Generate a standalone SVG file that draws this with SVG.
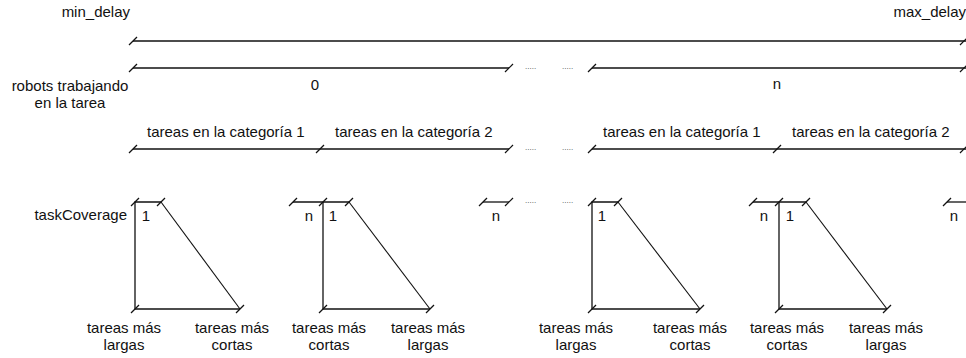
<svg xmlns="http://www.w3.org/2000/svg" width="966" height="358" viewBox="0 0 966 358">
<defs>
<style>
text{font-family:"Liberation Sans",Arial,sans-serif;font-size:15px;fill:#111}
.m{text-anchor:middle}
.e{text-anchor:end}
.ln{stroke:#111;stroke-width:1.3;fill:none}
.dg{stroke:#111;stroke-width:1.1;fill:none}
.dots{font-size:8px;fill:#444}
</style>
<path id="tk" d="M-4,4 L4,-4" stroke="#111" stroke-width="1.2"/>
</defs>
<rect width="966" height="358" fill="#fff"/>

<g id="labels-left">
<text x="130" y="17" class="e">min_delay</text>
<text x="966" y="17" class="e">max_delay</text>
<text x="70" y="91" class="m">robots trabajando</text>
<text x="70" y="108" class="m">en la tarea</text>
<text x="127" y="220" class="e">taskCoverage</text>
</g>

<g id="connectors">
<!-- row 1 -->
<line class="ln" x1="133" y1="41" x2="966" y2="41"/>
<use href="#tk" x="133" y="41"/>
<use href="#tk" x="964" y="41"/>
<!-- row 2 -->
<line class="ln" x1="133" y1="68" x2="509" y2="68"/>
<use href="#tk" x="133" y="68"/>
<use href="#tk" x="509" y="68"/>
<line class="ln" x1="592" y1="68" x2="966" y2="68"/>
<use href="#tk" x="592" y="68"/>
<use href="#tk" x="964" y="68"/>
<!-- row 3 -->
<line class="ln" x1="133" y1="149" x2="509" y2="149"/>
<use href="#tk" x="133" y="149"/>
<use href="#tk" x="320" y="149"/>
<use href="#tk" x="509" y="149"/>
<line class="ln" x1="592" y1="149" x2="966" y2="149"/>
<use href="#tk" x="592" y="149"/>
<use href="#tk" x="777" y="149"/>
<use href="#tk" x="964" y="149"/>
</g>

<g id="row-labels">
<text x="315" y="90" class="m">0</text>
<text x="777" y="89" class="m">n</text>
<text x="147" y="137">tareas en la categoría 1</text>
<text x="335" y="137">tareas en la categoría 2</text>
<text x="603" y="137">tareas en la categoría 1</text>
<text x="792" y="137">tareas en la categoría 2</text>
<text x="525" y="69" class="dots">.....</text>
<text x="562" y="69" class="dots">.....</text>
<text x="525" y="150" class="dots">.....</text>
<text x="562" y="150" class="dots">.....</text>
<text x="525" y="203" class="dots">.....</text>
<text x="562" y="203" class="dots">.....</text>
</g>

<g id="shape1">
<path class="ln" d="M135,309 L135,202 L161,202"/>
<line class="dg" x1="161" y1="202" x2="240" y2="309"/>
<line class="ln" x1="135" y1="309" x2="240" y2="309"/>
<use href="#tk" x="135" y="202"/>
<use href="#tk" x="161" y="202"/>
<use href="#tk" x="135" y="309"/>
<use href="#tk" x="240" y="309"/>
<text x="146" y="221" class="m">1</text>
<text x="124" y="333" class="m">tareas más</text>
<text x="124" y="350" class="m">largas</text>
<text x="232" y="333" class="m">tareas más</text>
<text x="232" y="350" class="m">cortas</text>
</g>

<g id="shape2">
<line class="ln" x1="293" y1="202" x2="349" y2="202"/>
<line class="ln" x1="323" y1="202" x2="323" y2="309"/>
<line class="dg" x1="349" y1="202" x2="430" y2="309"/>
<line class="ln" x1="323" y1="309" x2="430" y2="309"/>
<use href="#tk" x="293" y="202"/>
<use href="#tk" x="323" y="202"/>
<use href="#tk" x="349" y="202"/>
<use href="#tk" x="323" y="309"/>
<use href="#tk" x="430" y="309"/>
<text x="309" y="221" class="m">n</text>
<text x="333" y="221" class="m">1</text>
<text x="329" y="333" class="m">tareas más</text>
<text x="329" y="350" class="m">cortas</text>
<text x="428" y="333" class="m">tareas más</text>
<text x="428" y="350" class="m">largas</text>
</g>

<g id="segment-n1">
<line class="ln" x1="483" y1="202" x2="509" y2="202"/>
<use href="#tk" x="483" y="202"/>
<use href="#tk" x="509" y="202"/>
<text x="496" y="221" class="m">n</text>
</g>

<g id="shape3">
<path class="ln" d="M592,309 L592,202 L618,202"/>
<line class="dg" x1="618" y1="202" x2="700" y2="309"/>
<line class="ln" x1="592" y1="309" x2="700" y2="309"/>
<use href="#tk" x="592" y="202"/>
<use href="#tk" x="618" y="202"/>
<use href="#tk" x="592" y="309"/>
<use href="#tk" x="700" y="309"/>
<text x="602" y="221" class="m">1</text>
<text x="576" y="333" class="m">tareas más</text>
<text x="576" y="350" class="m">largas</text>
<text x="690" y="333" class="m">tareas más</text>
<text x="690" y="350" class="m">cortas</text>
</g>

<g id="shape4">
<line class="ln" x1="753" y1="202" x2="806" y2="202"/>
<line class="ln" x1="779" y1="202" x2="779" y2="309"/>
<line class="dg" x1="806" y1="202" x2="887" y2="309"/>
<line class="ln" x1="779" y1="309" x2="887" y2="309"/>
<use href="#tk" x="753" y="202"/>
<use href="#tk" x="779" y="202"/>
<use href="#tk" x="806" y="202"/>
<use href="#tk" x="779" y="309"/>
<use href="#tk" x="887" y="309"/>
<text x="764" y="221" class="m">n</text>
<text x="790" y="221" class="m">1</text>
<text x="787" y="333" class="m">tareas más</text>
<text x="787" y="350" class="m">cortas</text>
<text x="886" y="333" class="m">tareas más</text>
<text x="886" y="350" class="m">largas</text>
</g>

<g id="segment-n2">
<line class="ln" x1="947" y1="202" x2="966" y2="202"/>
<use href="#tk" x="947" y="202"/>
<text x="954" y="221" class="m">n</text>
</g>
</svg>
